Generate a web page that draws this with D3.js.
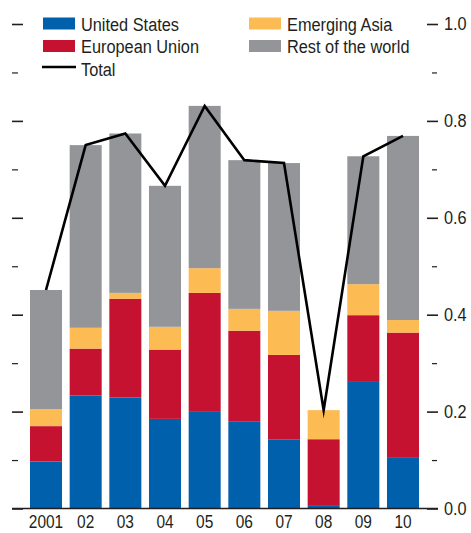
<!DOCTYPE html>
<html>
<head>
<meta charset="utf-8">
<script src="https://cdn.jsdelivr.net/npm/d3@7"></script>
<style>
  html, body { margin: 0; padding: 0; background: #fff; }
  svg text { font-family: "Liberation Sans", Arial, Helvetica, sans-serif; fill: #231f20; }
</style>
</head>
<body>
<svg id="chart" width="471" height="533"></svg>
<script>
// Contributions by region, 2001–10
const years = ["2001", "02", "03", "04", "05", "06", "07", "08", "09", "10"];
const unitedStates   = [0.097, 0.233, 0.229, 0.185, 0.201, 0.179, 0.142, 0.007, 0.263, 0.106];
const europeanUnion  = [0.073, 0.097, 0.204, 0.143, 0.244, 0.188, 0.175, 0.136, 0.136, 0.257];
const emergingAsia   = [0.035, 0.043, 0.012, 0.047, 0.051, 0.045, 0.091, 0.060, 0.064, 0.026];
const restOfWorld    = [0.246, 0.377, 0.329, 0.291, 0.335, 0.307, 0.305, 0.000, 0.264, 0.380];
const total          = [0.451, 0.750, 0.774, 0.666, 0.831, 0.719, 0.713, 0.203, 0.727, 0.769];
const majorTicks = [0, 0.2, 0.4, 0.6, 0.8, 1.0];
const minorTicks = [0.1, 0.3, 0.5, 0.7, 0.9];

const seriesKeys = ["us", "eu", "asia", "row"];
const seriesNames = {us: "United States", eu: "European Union", asia: "Emerging Asia", row: "Rest of the world"};
const colors = {us: "#0060ac", eu: "#c41230", asia: "#fdbb53", row: "#939598"};

const rows = years.map((y, i) => ({
  year: y, us: unitedStates[i], eu: europeanUnion[i], asia: emergingAsia[i], row: restOfWorld[i], total: total[i]
}));

const svg = d3.select("#chart");

const x = d3.scaleBand().domain(years).range([30, 419]).paddingInner(0.193).paddingOuter(0);
const y = d3.scaleLinear().domain([0, 1]).range([508.5, 24]);

// narrow the sans face horizontally around each text's anchor
function condense(sel, k) {
  sel.each(function () {
    const t = d3.select(this);
    const ax = +(t.attr("x") || 0);
    t.attr("transform", `translate(${ax},0) scale(${k},1) translate(${-ax},0)`);
  });
}

// stacked bars
const stacked = d3.stack().keys(seriesKeys)(rows);
svg.append("g").selectAll("g")
  .data(stacked).join("g")
  .attr("fill", d => colors[d.key])
  .selectAll("rect")
  .data(d => d).join("rect")
  .attr("x", d => x(d.data.year))
  .attr("width", x.bandwidth())
  .attr("y", d => y(d[1]))
  .attr("height", d => Math.max(0, y(d[0]) - y(d[1])));

// total line
const line = d3.line()
  .x(d => x(d.year) + x.bandwidth() / 2)
  .y(d => y(d.total));
svg.append("path")
  .datum(rows)
  .attr("d", line)
  .attr("fill", "none")
  .attr("stroke", "#000")
  .attr("stroke-width", 2.6)
  .attr("stroke-linejoin", "miter")
  .attr("stroke-miterlimit", 12);

// axes
function styleAxis(g, width) {
  g.select(".domain").remove();
  g.selectAll(".tick line").attr("stroke", "#231f20").attr("stroke-width", width);
}

svg.append("g").attr("transform", "translate(23,0)")
  .call(d3.axisLeft(y).tickValues(majorTicks).tickSize(11).tickFormat(""))
  .call(g => styleAxis(g, 1.6));
svg.append("g").attr("transform", "translate(18,0)")
  .call(d3.axisLeft(y).tickValues(minorTicks).tickSize(6).tickFormat(""))
  .call(g => styleAxis(g, 1.2));

svg.append("g").attr("transform", "translate(427,0)")
  .call(d3.axisRight(y).tickValues(majorTicks).tickSize(11).tickPadding(6).tickFormat(d3.format(".1f")))
  .call(g => styleAxis(g, 1.6))
  .call(g => g.selectAll("text").attr("font-size", 18.5).attr("fill", "#231f20").call(condense, 0.88));
svg.append("g").attr("transform", "translate(432,0)")
  .call(d3.axisRight(y).tickValues(minorTicks).tickSize(5).tickFormat(""))
  .call(g => styleAxis(g, 1.2));

svg.append("g").attr("transform", "translate(0,508.5)")
  .call(d3.axisBottom(x).tickSize(0))
  .call(g => g.select(".domain").remove())
  .call(g => g.selectAll("text")
    .attr("font-size", 18).attr("fill", "#231f20")
    .attr("y", 20).attr("dy", null)
    .call(condense, 0.86));

svg.append("line")
  .attr("x1", 12).attr("x2", 438)
  .attr("y1", y(0)).attr("y2", y(0))
  .attr("stroke", "#231f20").attr("stroke-width", 1.5);

// legend
const legendItems = [
  {key: "us", col: 0, row: 0},
  {key: "eu", col: 0, row: 1},
  {key: "asia", col: 1, row: 0},
  {key: "row", col: 1, row: 1}
];
const colX = [43, 249];
const rowY = [17.5, 40];
const legend = svg.append("g");
legend.selectAll("rect.swatch")
  .data(legendItems).join("rect")
  .attr("class", "swatch")
  .attr("x", d => colX[d.col]).attr("y", d => rowY[d.row])
  .attr("width", 32).attr("height", 12)
  .attr("fill", d => colors[d.key]);
legend.selectAll("text.lab")
  .data(legendItems).join("text")
  .attr("class", "lab")
  .attr("x", d => colX[d.col] + 38).attr("y", d => rowY[d.row] + 13.5)
  .attr("font-size", 19)
  .text(d => seriesNames[d.key])
  .call(condense, 0.86);
legend.append("line")
  .attr("x1", 42).attr("x2", 76).attr("y1", 67).attr("y2", 67)
  .attr("stroke", "#000").attr("stroke-width", 2.6);
legend.append("text")
  .attr("x", 81).attr("y", 76)
  .attr("font-size", 19)
  .text("Total")
  .call(condense, 0.86);
</script>
</body>
</html>
